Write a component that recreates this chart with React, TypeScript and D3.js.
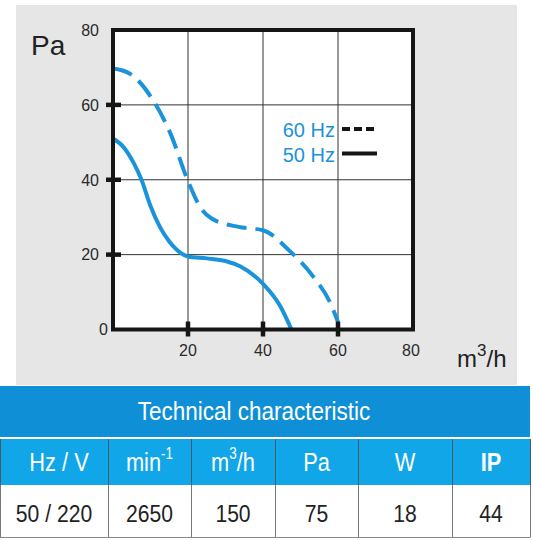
import { curveMonotoneX, line, scaleLinear } from 'd3'
import { useMemo } from 'react'

// fan curve: pressure (Pa) vs air flow (m3/h)
const flow60 = [0, 4.4, 10.7, 15.3, 20, 23.5, 26.2, 33.5, 40, 47.1, 53.5, 58, 60]
const pressure60 = [69.7, 68.4, 61.2, 52.4, 39.6, 32.3, 29.7, 27.4, 26.5, 21, 14, 7, 2]
const flow50 = [0, 3, 5.5, 7.6, 10, 12.5, 15, 17, 20, 25, 30, 34, 40, 44.5, 47.6]
const pressure50 = [51, 48.5, 44.5, 40, 33, 27.4, 23.5, 21.3, 19.5, 19, 18.3, 16.8, 12.2, 6.4, 0]

const seriesNames = ['60 Hz', '50 Hz']
const xTickLabels = [20, 40, 60, 80]
const yTickLabels = [0, 20, 40, 60, 80]
const gridValues = [20, 40, 60]

const tableTitle = 'Technical characteristic'
const headerBase = ['Hz / V', 'min', 'm', 'Pa', 'W', 'IP']
const headerSup = ['', '-1', '3', '', '', '']
const headerTail = ['', '', '/h', '', '', '']
const rowValues = ['50 / 220', '2650', '150', '75', '18', '44']

type Pt = { x: number; y: number }

const BLUE = '#1a93da'
const FONT = 'Arial, "Liberation Sans", sans-serif'

export default function App() {
  const width = 533
  const height = 540
  const plot = { left: 113, right: 413, top: 30, bottom: 329.5 }

  const xScale = useMemo(() => scaleLinear().domain([0, 80]).range([plot.left, plot.right]), [])
  const yScale = useMemo(() => scaleLinear().domain([0, 80]).range([plot.bottom, plot.top]), [])

  const path = useMemo(
    () =>
      line<Pt>()
        .x((p) => xScale(p.x))
        .y((p) => yScale(p.y))
        .curve(curveMonotoneX),
    [xScale, yScale]
  )

  const pts60 = flow60.map((x, i) => ({ x, y: pressure60[i] }))
  const pts50 = flow50.map((x, i) => ({ x, y: pressure50[i] }))

  // table columns
  const colEdges = [0, 108, 191, 275, 358, 452, 530]
  const colCenter = (i: number) => (colEdges[i] + colEdges[i + 1]) / 2
  const table = { titleTop: 386, titleBottom: 437, headTop: 439, headBottom: 485, rowBottom: 537.5 }

  return (
    <svg width={width} height={height} style={{ position: 'absolute', left: 0, top: 0, background: '#fff' }} fontFamily={FONT}>
      <rect x={16} y={5} width={501} height={380} fill="#e6e6e6" />

      {/* plot area */}
      <rect x={plot.left} y={plot.top} width={plot.right - plot.left} height={plot.bottom - plot.top} fill="#fff" />
      {gridValues.map((v) => (
        <g key={'g' + v}>
          <line x1={xScale(v)} x2={xScale(v)} y1={plot.top} y2={plot.bottom} stroke="#333" strokeWidth={1} />
          <line x1={plot.left} x2={plot.right} y1={yScale(v)} y2={yScale(v)} stroke="#333" strokeWidth={1} />
        </g>
      ))}

      <path d={path(pts50) ?? ''} fill="none" stroke={BLUE} strokeWidth={4} />
      <path d={path(pts60) ?? ''} fill="none" stroke={BLUE} strokeWidth={4} strokeDasharray="20 9" />

      <rect
        x={plot.left}
        y={plot.top}
        width={plot.right - plot.left}
        height={plot.bottom - plot.top}
        fill="none"
        stroke="#161616"
        strokeWidth={4}
      />
      {gridValues.map((v) => (
        <g key={'t' + v}>
          <line x1={plot.left - 7} x2={plot.left + 8} y1={yScale(v)} y2={yScale(v)} stroke="#161616" strokeWidth={4.5} />
          <line x1={xScale(v)} x2={xScale(v)} y1={plot.bottom - 8} y2={plot.bottom + 7} stroke="#161616" strokeWidth={4.5} />
        </g>
      ))}

      {yTickLabels.map((v) => (
        <text
          key={'yl' + v}
          x={v === 0 ? plot.left - 5 : plot.left - 14}
          y={yScale(v)}
          dy="0.36em"
          textAnchor="end"
          fontSize={16}
          fill="#2a2a2a"
        >
          {v}
        </text>
      ))}
      {xTickLabels.map((v) => (
        <text key={'xl' + v} x={xScale(v) - (v === 80 ? 2 : 0)} y={356} textAnchor="middle" fontSize={16} fill="#2a2a2a">
          {v}
        </text>
      ))}

      <text x={31} y={55} fontSize={28} fill="#222">
        Pa
      </text>
      <text x={457} y={366.7} fontSize={24} fill="#222">
        m<tspan fontSize={17} dy={-11}>3</tspan>
        <tspan dy={11}>/h</tspan>
      </text>

      {/* legend */}
      {seriesNames.map((name, i) => {
        const yBase = 136.7 + i * 25
        const yLine = 129 + i * 24.5
        return (
          <g key={name}>
            <text x={335} y={yBase} textAnchor="end" fontSize={20} fill={BLUE}>
              {name}
            </text>
            <line
              x1={342}
              x2={i === 0 ? 375 : 377}
              y1={yLine}
              y2={yLine}
              stroke="#161616"
              strokeWidth={4}
              strokeDasharray={i === 0 ? '8 4' : undefined}
            />
          </g>
        )
      })}

      {/* technical table */}
      <rect x={0} y={table.titleTop} width={colEdges[6]} height={table.titleBottom - table.titleTop} fill="#0f8fd5" />
      <text
        transform={`translate(254,419.5) scale(0.9,1)`}
        textAnchor="middle"
        fontSize={25}
        fill="#fff"
      >
        {tableTitle}
      </text>
      <rect x={0} y={table.headTop} width={colEdges[6]} height={table.headBottom - table.headTop} fill="#11a6e7" />
      {headerBase.map((h, i) => (
        <text
          key={'h' + i}
          transform={`translate(${colCenter(i) + (i === 0 ? 5 : 0)},471) scale(0.84,1)`}
          textAnchor="middle"
          fontSize={26}
          fontWeight={h === 'IP' ? 'bold' : 'normal'}
          fill="#fff"
        >
          {h}
          {headerSup[i] && (
            <tspan fontSize={16} dy={-12}>
              {headerSup[i]}
            </tspan>
          )}
          {headerTail[i] && <tspan dy={12}>{headerTail[i]}</tspan>}
        </text>
      ))}
      {rowValues.map((v, i) => (
        <text
          key={'v' + i}
          transform={`translate(${colCenter(i)},521.7) scale(0.88,1)`}
          textAnchor="middle"
          fontSize={24}
          fill="#222"
        >
          {v}
        </text>
      ))}
      {colEdges.map((x, i) => (
        <g key={'c' + i}>
          <line x1={x + 0.5} x2={x + 0.5} y1={table.headTop} y2={table.headBottom} stroke="#4a5a66" strokeWidth={1} />
          <line x1={x + 0.5} x2={x + 0.5} y1={table.headBottom} y2={table.rowBottom} stroke="#777" strokeWidth={1} />
        </g>
      ))}
      <line x1={0} x2={colEdges[6]} y1={table.rowBottom} y2={table.rowBottom} stroke="#888" strokeWidth={1} />
    </svg>
  )
}
